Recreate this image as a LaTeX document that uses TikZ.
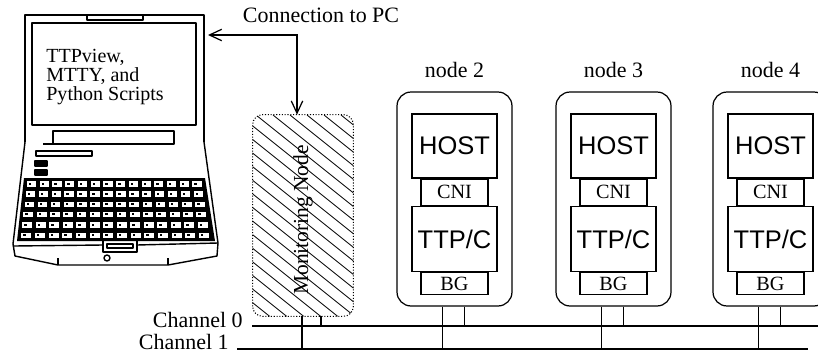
\documentclass[tikz,border=0pt]{standalone}
\usepackage{fontspec}
\setmainfont{Liberation Serif}
\newfontfamily\hvfont{Liberation Sans}
\usepackage{tikz}
\usetikzlibrary{arrows.meta,positioning}

\begin{document}
\begin{tikzpicture}[x=0.02cm, y=-0.02cm,
  lbl/.style={font=\fontsize{12.5}{15}\selectfont, inner sep=0pt},
  outerbox/.style={draw, line width=0.7pt, rounded corners=0.28cm, minimum width=2.3cm, minimum height=4.28cm},
  bigbox/.style={draw, line width=0.7pt, fill=white, inner sep=0pt, minimum width=1.7cm, font=\hvfont\fontsize{14.5}{16}\selectfont},
  ifbox/.style={draw, line width=0.7pt, fill=white, inner sep=0pt, minimum width=1.34cm, font=\fontsize{11.5}{13}\selectfont},
  pc/.style={line width=0.8pt, line join=round},
  stub/.style={line width=0.7pt},
  bus/.style={line width=1.2pt},
  link/.style={line width=0.7pt, {Straight Barb[length=7pt,width=6.5pt]}-{Straight Barb[length=7pt,width=6.5pt]}}]
\clip (0,0) rectangle (818,352);
\fill[white] (0,0) rectangle (818,352);

%--- PC ---
% lid
\draw[pc] (25,142) -- (25,15) -- (204,15) -- (204,142);
\draw[pc] (87,15) -- (87,20) -- (143,20) -- (143,15);
\node[draw, pc, minimum width=3.28cm, minimum height=2.04cm] (screen) at (114,74) {};
\node[anchor=west, align=left, inner sep=0pt, font=\fontsize{11.4}{10.8}\selectfont] (apps) at (46,77)
  {TTPview,\\MTTY, and\\Python Scripts};
% hinge
\draw[pc] (53,131) rectangle (174,144);
\draw[pc] (43,144) -- (53,144);
% base
\draw[pc] (25,142) -- (13,244) -- (15,256) -- (58,265) -- (168,265) -- (217,256) -- (218,243) -- (204,142);
\draw[pc] (14,246) -- (103,245);
\draw[pc] (137,245) -- (218,243);
\draw[pc] (58,258) -- (58,265);
\draw[pc] (168,258) -- (168,265);
\draw[pc] (103,240) rectangle (137,252);
\draw[pc] (107,244) rectangle (133,248);
\draw[pc] (107,258) circle[radius=0.06cm];
\draw[pc] (36,151) rectangle (92,156);
\draw[pc, fill=black] (35,161) rectangle (47,166);
\draw[pc, fill=black] (35,170) rectangle (47,175);
% keyboard
\fill (24,178) -- (205,178) -- (215,241) -- (17,241) -- cycle;
\foreach \r in {0,...,5}{
  \pgfmathsetmacro\yt{179.5+\r*10.3}
  \pgfmathsetmacro\xl{24-(\yt-178)*0.11+1.5}
  \pgfmathsetmacro\xr{205+(\yt-178)*0.143-1.5}
  \pgfmathsetmacro\kw{(\xr-\xl)/14}
  \foreach \k in {0,...,13}{
    \fill[white] (\xl+\k*\kw+1.5,\yt+1.5) rectangle ++(\kw-3.5,5.5);
    \fill (\xl+\k*\kw+3.5,\yt+3) rectangle ++(2.5,2);
  }
}

%--- Monitoring node ---
\node[minimum width=2cm, minimum height=4.02cm] (mon) at (303,215.5) {};
\begin{scope}
\clip[rounded corners=0.2cm] (mon.south west) rectangle (mon.north east);
\foreach \c in {-15,...,5}{
  \draw[line width=0.45pt] (273+\c*17,115) -- ++(260,208);
}
\end{scope}
\draw[line width=0.6pt, densely dotted, rounded corners=0.2cm] (mon.south west) rectangle (mon.north east);
\node[rotate=90, font=\fontsize{12.2}{14}\selectfont, inner sep=0pt] (monlbl) at (303,220) {Monitoring Node};

% connection to PC
\node[lbl] (conn) at (321,15) {Connection to PC};
\coordinate (pcport) at (208,35);
\coordinate (bend) at (297,35);
\draw[link] (pcport) -- (bend) -- (bend |- mon.north);

%--- TTP nodes ---
\foreach \n/\cx in {2/454.5, 3/613.5, 4/770.5}{
  \node[outerbox] (outer\n) at (\cx,199) {};
  \node[lbl] (name\n) at (\cx,70) {node \n};
  \node[bigbox, minimum height=1.28cm] (host\n) at (\cx,146) {HOST};
  \node[ifbox, minimum height=0.52cm, below=0pt of host\n] (cni\n) {CNI};
  \node[bigbox, minimum height=1.3cm, below=0pt of cni\n] (ttp\n) {TTP/C};
  \node[ifbox, minimum height=0.44cm, below=0pt of ttp\n] (bg\n) {BG};
  \draw[stub] ([xshift=-0.24cm]outer\n.south) -- ++(0,43);
  \draw[stub] ([xshift=0.2cm]outer\n.south) -- ++(0,20);
}

%--- Channels ---
\draw[stub] ([xshift=-0.02cm]mon.south) -- ++(0,33);
\draw[stub] ([xshift=0.36cm]mon.south) -- ++(0,10);
\coordinate (ch0w) at (252,326);
\coordinate (ch0e) at (818,326);
\coordinate (ch1w) at (237,349);
\coordinate (ch1e) at (808,349);
\draw[bus] (ch0w) -- (ch0e);
\draw[bus] (ch1w) -- (ch1e);
\node[lbl, anchor=base east] (ch0lbl) at (243,327) {Channel 0};
\node[lbl, anchor=base east] (ch1lbl) at (229,349) {Channel 1};
\end{tikzpicture}
\end{document}
